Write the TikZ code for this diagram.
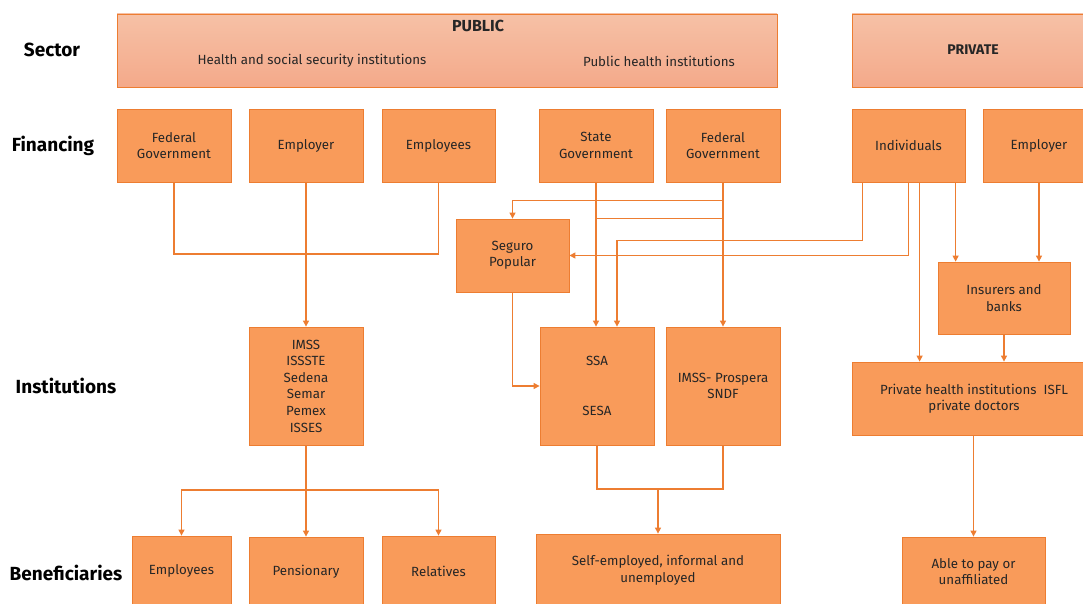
\documentclass[tikz,border=0pt]{standalone}
\usepackage{fontspec}
\setmainfont{Fira Sans}
\definecolor{boxfill}{HTML}{F99B5A}
\definecolor{boxline}{HTML}{ED7D31}
\definecolor{secttop}{HTML}{F6C1A6}
\definecolor{sectbot}{HTML}{F4A98A}
\definecolor{ink}{HTML}{262626}
\usepackage{tikz}
\usetikzlibrary{arrows.meta, positioning, calc}

\begin{document}
\begin{tikzpicture}[x=1pt, y=-1pt,
  every node/.style={font=\fontsize{13.3}{16.5}\selectfont, text=ink},
  ob/.style 2 args={rectangle, draw=boxline, fill=boxfill, line width=0.8pt,
             align=center, minimum width=#1pt, minimum height=#2pt, inner sep=0pt},
  sb/.style={rectangle, draw=boxline, top color=secttop, bottom color=sectbot,
             line width=0.8pt, minimum width=#1pt, minimum height=73pt, inner sep=0pt},
  lbl/.style={font=\fontsize{19}{20}\selectfont\bfseries, text=black},
  arr/.style={-{Triangle[length=6pt, width=6pt]}, line width=1.2pt, boxline},
  ln/.style={line width=1.2pt, boxline}
]
  \useasboundingbox (0,0) rectangle (1083,604);

  % row labels
  \node[lbl] (lsec) at (52,50) {Sector};
  \node[lbl] (lfin) at (53,146) {Financing};
  \node[lbl] (lins) at (66,386) {Institutions};
  \node[lbl] (lben) at (66,573) {Beneficiaries};

  % sector
  \node[sb=660] (pub) at (447,50.5) {};
  \node[sb=244] (pri) at (974,50.5) {};
  \node[font=\fontsize{16}{18}\selectfont\bfseries] (tpub) at (478,26) {PUBLIC};
  \node (tssi) at (312,61) {Health and social security institutions};
  \node (tphi) at (659,61) {Public health institutions};
  \node[font=\fontsize{14}{16}\selectfont\bfseries] (tpri) at (973,50) {PRIVATE};

  % financing
  \node[ob={114}{73}] (fg1) at (174,145.5) {Federal\\Government};
  \node[ob={114}{73}] (emp1) at (306,145.5) {Employer};
  \node[ob={113}{73}] (emps1) at (438.5,145.5) {Employees};
  \node[ob={114}{73}] (sg) at (596,145.5) {State\\Government};
  \node[ob={114}{73}] (fg2) at (723,145.5) {Federal\\Government};
  \node[ob={113}{73}] (ind) at (908.5,145.5) {Individuals};
  \node[ob={112}{73}] (emp2) at (1039,145.5) {Employer};
  \node[ob={113}{73}] (segpop) at (512.5,255.5) {Seguro\\Popular};
  \node[ob={132}{72}] (ins) at (1004,298) {Insurers and\\banks};

  % institutions
  \node[ob={114}{118}, font=\fontsize{13.3}{16.6}\selectfont] (imss) at (306,386)
    {IMSS\\ISSSTE\\Sedena\\Semar\\Pemex\\ISSES};
  \node[ob={114}{118}] (ssa) at (597,386) {SSA\\[34pt]SESA};
  \node[ob={114}{118}] (prosp) at (723,386) {IMSS- Prospera\\SNDF};
  \node[ob={244}{73}] (priv) at (974,398.5) {Private health institutions\ \ ISFL\\private doctors};

  % beneficiaries
  \node[ob={99}{70}] (ben1) at (181.5,571) {Employees};
  \node[ob={114}{69}] (ben2) at (306,571.5) {Pensionary};
  \node[ob={113}{70}] (ben3) at (438.5,571) {Relatives};
  \node[ob={244}{72}] (self) at (658,570) {Self-employed, informal and\\unemployed};
  \node[ob={143}{69}] (able) at (973.5,571.5) {Able to pay or\\unaffiliated};

  % connectors
  \coordinate (j1) at (306,254);
  \draw[ln] (fg1.south) |- (j1) -| (emps1.south);
  \draw[arr] (emp1) -- (imss);
  \coordinate (j2) at (306,490);
  \draw[ln] (imss) -- (j2);
  \draw[arr] (j2) -| (ben1.north);
  \draw[arr] (j2) -| (ben3.north);
  \draw[arr] (j2) -- (ben2);

  \draw[arr] (fg2) -- (prosp);
  \coordinate (f1) at ($(fg2.south)+(0,18)$);
  \coordinate (f2) at ($(fg2.south)+(0,36)$);
  \draw[arr] (f1) -| (segpop.north);
  \draw[ln] (f2) -- (f2 -| sg.south);
  \draw[arr] (sg.south) -- (sg.south |- ssa.north);

  \coordinate (i1) at ($(ind.south west)+(11,0)$);
  \coordinate (i2) at ($(ind.south west)+(57,0)$);
  \coordinate (i3) at ($(ind.south west)+(68,0)$);
  \coordinate (i4) at ($(ind.south west)+(104,0)$);
  \coordinate (s1) at ($(ssa.north)+(20,0)$);
  \draw[arr] (i1) |- ($(s1)+(0,-86)$) -- (s1);
  \draw[arr] (i2) |- (segpop.east);
  \draw[arr] (i3) -- (i3 |- priv.north);
  \draw[arr] (i4) -- (i4 |- ins.north);
  \draw[arr] (emp2.south) -- (emp2.south |- ins.north);
  \draw[arr] (ins) -- (ins |- priv.north);

  \draw[arr] (segpop.south) |- (ssa.west);
  \coordinate (j3) at (658,489);
  \draw[ln] (ssa.south) |- (prosp.south |- j3) -- (prosp.south);
  \draw[arr] (j3) -- (self);
  \draw[arr] (able.north |- priv.south) -- (able.north);
\end{tikzpicture}
\end{document}
